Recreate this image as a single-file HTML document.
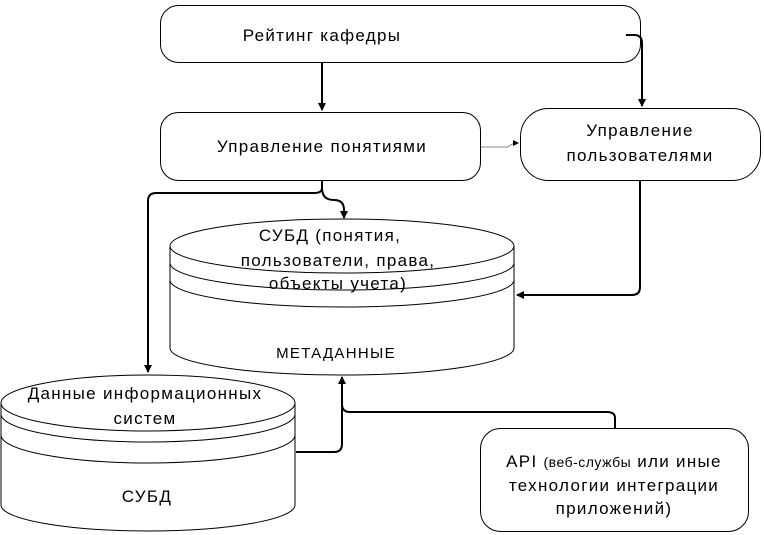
<!DOCTYPE html>
<html><head><meta charset="utf-8"><style>
html,body{margin:0;padding:0;background:#fff;}
svg{display:block;}
text{font-family:"Liberation Sans","DejaVu Sans",sans-serif;font-size:17px;fill:#000;letter-spacing:1.3px;}
</style></head><body>
<svg width="764" height="535" viewBox="0 0 764 535" xmlns="http://www.w3.org/2000/svg">
<defs>
<marker id="a" markerWidth="8" markerHeight="10" refX="7" refY="5" orient="auto" markerUnits="userSpaceOnUse">
<path d="M0,1 L8,5 L0,9 Z" fill="#000"/></marker>
<marker id="s" markerWidth="6" markerHeight="6" refX="5" refY="3" orient="auto" markerUnits="userSpaceOnUse">
<path d="M0,0 L6,3 L0,6 Z" fill="#000"/></marker>
</defs>
<g fill="none" stroke="#000" stroke-width="1">
<rect x="160.5" y="5.5" width="480" height="57" rx="18"/>
<rect x="160.5" y="112.5" width="320" height="68" rx="18"/>
<rect x="520.5" y="108.5" width="240" height="72" rx="28"/>
<rect x="480.5" y="428.5" width="268" height="103" rx="20"/>
<path d="M170,246 L170,348 A172,27 0 0 0 514,348 L514,246"/>
<ellipse cx="342" cy="246" rx="172" ry="27"/>
<path d="M170,263 A172,27 0 0 0 514,263"/>
<path d="M170,280 A172,27 0 0 0 514,280"/>
<path d="M1,403 L1,505 A147,26 0 0 0 295,505 L295,403"/>
<ellipse cx="148" cy="403" rx="147" ry="28"/>
<path d="M1,414 A147,28 0 0 0 295,414"/>
<path d="M1,435 A147,28 0 0 0 295,435"/>
</g>
<g fill="none" stroke="#000" stroke-width="2">
<path d="M322,62 L322,110" marker-end="url(#a)"/>
<path d="M626,35 L634,35 Q642,35 642,43 L642,106" marker-end="url(#a)"/>
<path d="M322,180 L322,188 Q322,200 334,200 Q344,200 344,210 L344,218" marker-end="url(#a)"/>
<path d="M322,188 Q322,193 314,193 L156,193 Q148,193 148,201 L148,372" marker-end="url(#a)"/>
<path d="M640,180 L640,287 Q640,295 632,295 L517,295" marker-end="url(#a)"/>
<path d="M296,452 L334,452 Q342,452 342,444 L342,377" marker-end="url(#a)"/>
<path d="M615,428 L615,418 Q615,412 607,412 L350,412 Q342,412 342,404"/>
</g>
<path d="M481,147 L508,147 Q512,143 518,143" fill="none" stroke="#888" stroke-width="1" marker-end="url(#s)"/>
<text x="322" y="41" text-anchor="middle">Рейтинг кафедры</text>
<text x="322" y="152" text-anchor="middle">Управление понятиями</text>
<text x="640" y="136" text-anchor="middle">Управление</text>
<text x="640" y="161" text-anchor="middle">пользователями</text>
<text x="330" y="241" text-anchor="middle">СУБД (понятия,</text>
<text x="338" y="266" text-anchor="middle">пользователи, права,</text>
<text x="338" y="289" text-anchor="middle">объекты учета)</text>
<text x="336" y="358" text-anchor="middle" style="font-size:15px">МЕТАДАННЫЕ</text>
<text x="145" y="399" text-anchor="middle">Данные информационных</text>
<text x="145" y="424" text-anchor="middle">систем</text>
<text x="147" y="502" text-anchor="middle">СУБД</text>
<text x="614" y="467" text-anchor="middle">API <tspan style="font-size:14px;letter-spacing:0.5px">(веб-службы</tspan>   или иные</text>
<text x="614" y="491" text-anchor="middle">технологии интеграции</text>
<text x="614" y="514" text-anchor="middle">приложений)</text>
</svg>
</body></html>
